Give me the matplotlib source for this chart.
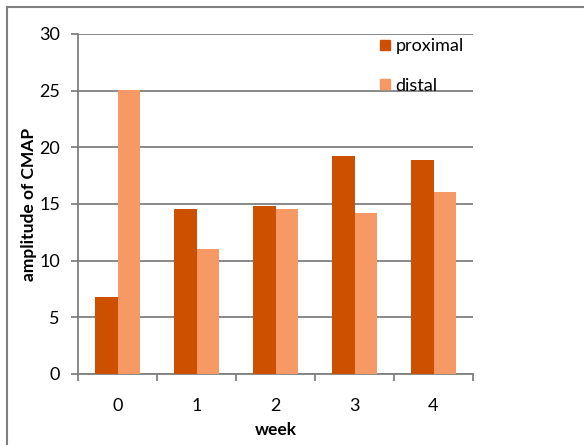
import matplotlib
matplotlib.use("Agg")
import matplotlib.pyplot as plt
import numpy as np
from matplotlib.lines import Line2D

weeks = ["0", "1", "2", "3", "4"]
proximal = [6.8, 14.55, 14.8, 19.25, 18.9]
distal = [25.1, 11.0, 14.6, 14.25, 16.05]
yticks = [0, 5, 10, 15, 20, 25, 30]

c_prox = "#CD5000"
c_dist = "#F69964"
grid_c = "#808080"

plt.rcParams['font.family'] = ['Lato', 'DejaVu Sans']

fig = plt.figure(figsize=(5.84, 4.45), dpi=100)
ax = fig.add_axes([78/584, 1-374/445, (473-78)/584, (374-34)/445])

x = np.arange(len(weeks))
w = 0.285
ax.bar(x - w/2, proximal, width=w, color=c_prox, label="proximal", zorder=3)
ax.bar(x + w/2, distal, width=w, color=c_dist, label="distal", zorder=3)

ax.set_xlim(-0.5, len(weeks) - 0.5)
ax.set_ylim(0, 30)
ax.set_yticks(yticks)
ax.set_yticklabels([str(t) for t in yticks], fontsize=13)
ax.yaxis.grid(True, color=grid_c, linewidth=1.3, zorder=0)
ax.set_axisbelow(True)

ax.set_xticks(np.arange(-0.5, len(weeks), 1.0))
ax.set_xticklabels([])
ax.set_xticks(x, minor=True)
ax.set_xticklabels(weeks, minor=True, fontsize=13)
ax.tick_params(axis='x', which='major', length=5, color=grid_c, width=1.3, direction='out')
ax.tick_params(axis='x', which='minor', length=0, pad=17.5)
ax.tick_params(axis='y', length=5, color=grid_c, width=1.3, direction='out', pad=8)

for s in ['top', 'right']:
    ax.spines[s].set_visible(False)
for s in ['left', 'bottom']:
    ax.spines[s].set_color(grid_c)
    ax.spines[s].set_linewidth(1.3)

ax.set_xlabel("week", fontsize=12.5, fontweight='bold', labelpad=5.5)
ax.set_ylabel("amplitude of CMAP", fontsize=12.5, fontweight='bold', labelpad=1.5)

handles = [Line2D([0], [0], marker='s', color='none', markerfacecolor=c_prox, markeredgecolor=c_prox, markersize=7.5),
           Line2D([0], [0], marker='s', color='none', markerfacecolor=c_dist, markeredgecolor=c_dist, markersize=7.5)]
leg = ax.legend(handles, ["proximal", "distal"], loc='upper left', bbox_to_anchor=(0.735, 1.02),
                frameon=False, fontsize=13, handlelength=0.6, handletextpad=0.3,
                labelspacing=1.3, borderaxespad=0.2)

# outer chart frame (cropped)
fig.add_artist(Line2D([7/584, 7/584], [0, 1-7/445], transform=fig.transFigure, color="#7f7f7f", linewidth=1.5))
fig.add_artist(Line2D([7/584, 1], [1-7/445, 1-7/445], transform=fig.transFigure, color="#7f7f7f", linewidth=1.5))

fig.savefig("out.png", dpi=100)
